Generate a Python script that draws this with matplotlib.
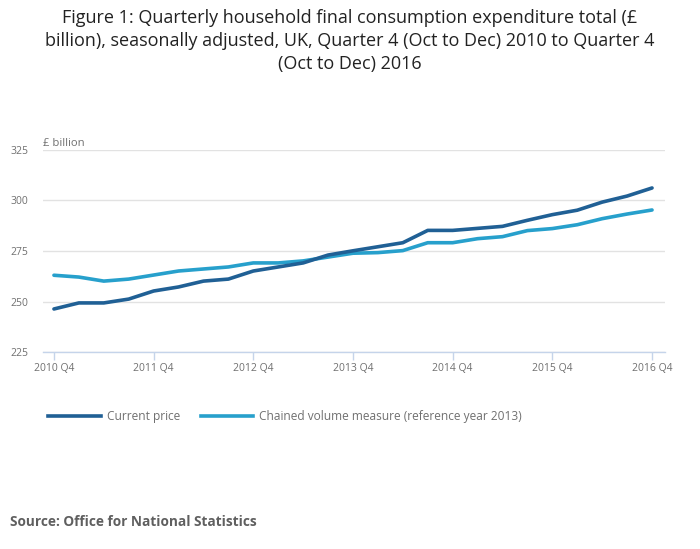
import numpy as np
import matplotlib.pyplot as plt
from matplotlib.lines import Line2D

plt.rcParams['font.family'] = ['Open Sans', 'DejaVu Sans']

quarters = ['2010 Q4', '2011 Q1', '2011 Q2', '2011 Q3',
            '2011 Q4', '2012 Q1', '2012 Q2', '2012 Q3',
            '2012 Q4', '2013 Q1', '2013 Q2', '2013 Q3',
            '2013 Q4', '2014 Q1', '2014 Q2', '2014 Q3',
            '2014 Q4', '2015 Q1', '2015 Q2', '2015 Q3',
            '2015 Q4', '2016 Q1', '2016 Q2', '2016 Q3',
            '2016 Q4']
current_price = [246.3, 249.3, 249.3, 251.2, 255.2, 257.2, 260.1, 261.1,
                 265.1, 267.1, 269.1, 273.0, 275.1, 277.1, 279.1, 285.2,
                 285.2, 286.2, 287.2, 290.2, 293.0, 295.2, 299.2, 302.2,
                 306.2]
chained_volume = [263.0, 262.1, 260.1, 261.1, 263.1, 265.1, 266.1, 267.1,
                  269.1, 269.1, 270.1, 272.0, 273.9, 274.2, 275.2, 279.1,
                  279.1, 281.1, 282.1, 285.1, 286.1, 288.0, 291.0, 293.3,
                  295.3]
yticks = [225, 250, 275, 300, 325]

dark_blue = '#206095'
light_blue = '#27a0cc'
grey_text = '#707070'

x = np.arange(len(quarters))

fig = plt.figure(figsize=(7, 5.49), dpi=100)
ax = fig.add_axes([0.0614, 0.3588, 0.8886, 0.368])

ax.plot(x, current_price, color=dark_blue, lw=2.6, solid_capstyle='round',
        solid_joinstyle='round', label='Current price', zorder=3)
ax.plot(x, chained_volume, color=light_blue, lw=2.6, solid_capstyle='round',
        solid_joinstyle='round',
        label='Chained volume measure (reference year 2013)', zorder=2)

ax.set_xlim(-0.44, len(quarters) - 1 + 0.52)
ax.set_ylim(225, 325)
ax.set_yticks(yticks)
ax.set_xticks(x[::4])
ax.set_xticklabels(quarters[::4])

ax.grid(axis='y', color='#e2e2e2', lw=1)
ax.set_axisbelow(True)
for s in ['top', 'right', 'left']:
    ax.spines[s].set_visible(False)
ax.spines['bottom'].set_color('#c5d4ea')
ax.spines['bottom'].set_linewidth(1)
# y labels sit about 15px left of the gridlines
ax.tick_params(axis='y', length=0, pad=10.5, labelsize=7.5, labelcolor=grey_text)
ax.tick_params(axis='x', length=6, color='#c5d4ea', width=1, pad=2,
               labelsize=7.5, labelcolor=grey_text)

ax.text(0, 1.005, '£ billion', transform=ax.transAxes, fontsize=8.1,
        color=grey_text, ha='left', va='bottom')

fig.suptitle('Figure 1: Quarterly household final consumption expenditure total (£\n'
             'billion), seasonally adjusted, UK, Quarter 4 (Oct to Dec) 2010 to Quarter 4\n'
             '(Oct to Dec) 2016', x=0.5, y=0.983, fontsize=13, color='#222222',
             linespacing=1.36, va='top')

handles = [Line2D([], [], color=dark_blue, lw=2.6),
           Line2D([], [], color=light_blue, lw=2.6)]
fig.legend(handles, ['Current price', 'Chained volume measure (reference year 2013)'],
           loc='center left', bbox_to_anchor=(0.0686, 0.241), ncol=2, frameon=False,
           handlelength=4.4, handletextpad=0.5, columnspacing=1.75,
           prop={'size': 8.6}, labelcolor=grey_text, borderaxespad=0, borderpad=0)

fig.text(0.014, 0.049, 'Source: Office for National Statistics', fontsize=9.8,
         fontweight='bold', color='#5f5f5f', ha='left', va='center')

fig.savefig('out.png', dpi=100)
